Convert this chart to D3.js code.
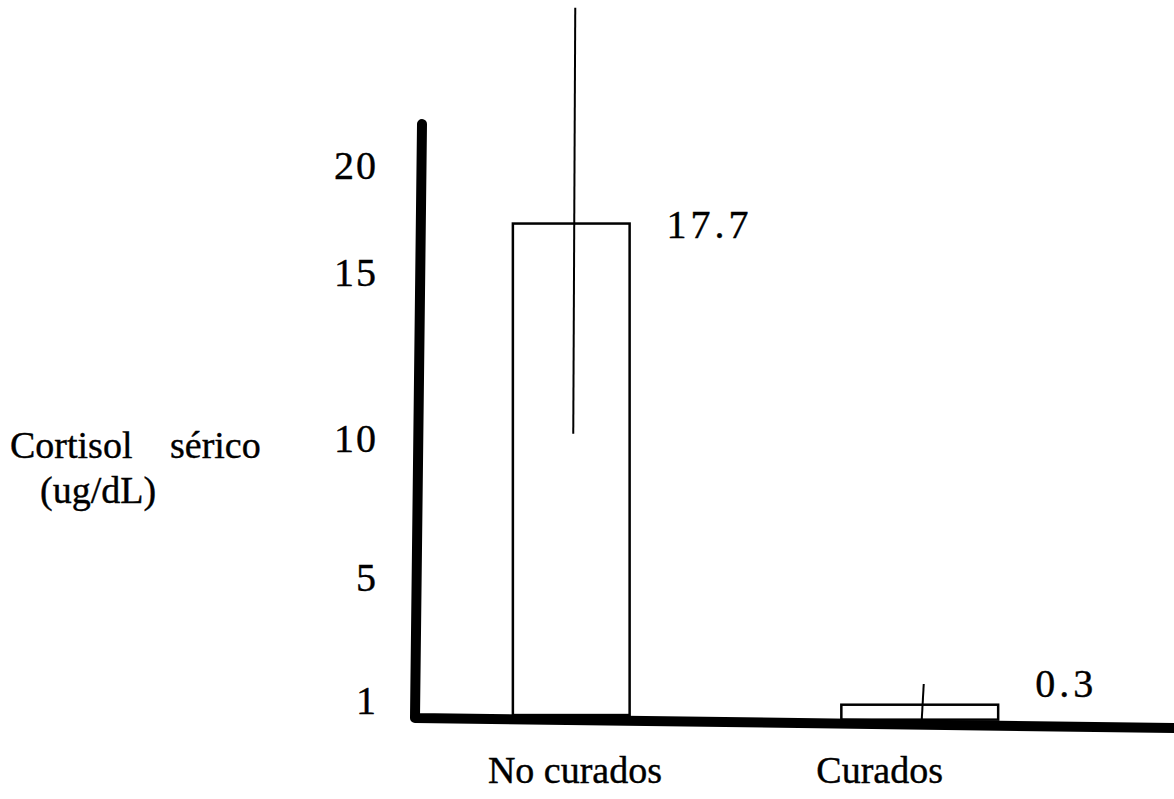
<!DOCTYPE html>
<html lang="es">
<head>
    <meta charset="UTF-8">
    <title>Cortisol sérico</title>
    <script src="https://d3js.org/d3.v7.min.js"></script>
    <style>
        body {
            margin: 0;
            padding: 0;
            background-color: #fff;
            overflow: hidden;
        }

        svg {
            display: block;
        }

        text {
            font-family: "Liberation Serif", "Times New Roman", serif;
            fill: #000;
            stroke: #000;
            stroke-width: 0.4px;
        }
    </style>
</head>
<body>
    <script>
        // Data
        const categories = ["No curados", "Curados"];
        const means = [17.7, 0.3];
        const errHigh = [25.5, 1.05];
        const errLow = [10.1, 0];
        const yTicks = [1, 5, 10, 15, 20];
        const yTickLabels = ["1", "5", "10", "15", "20"];

        // styling only: relative bar widths as drawn in the original
        const barWidthFrac = [0.335, 0.45];

        const width = 1174;
        const height = 799;

        const svg = d3.select("body").append("svg")
            .attr("width", width)
            .attr("height", height);

        const y = d3.scaleLinear()
            .domain([0, 21.3])
            .range([713, 124]);

        // the tick numbers in the original are hand-spaced, not linear
        const yLabel = d3.scaleLinear()
            .domain([0, 1, 5, 10, 15, 20])
            .range([715, 700, 577, 438, 272, 165]);

        const x = d3.scaleBand()
            .domain(categories)
            .range([397, 1094])
            .padding(0);

        // the scanned x axis drops slightly towards the right
        const axisX0 = 415;
        const xAxisDrop = 10;
        const axisW = 10;
        const baseline = px => y(0) + xAxisDrop * (px - axisX0) / (width - axisX0);

        const data = categories.map((c, i) => ({
            cat: c,
            mean: means[i],
            hi: errHigh[i],
            lo: errLow[i],
            w: x.bandwidth() * barWidthFrac[i]
        }));

        const cx = d => x(d.cat) + x.bandwidth() / 2;

        // Bars
        svg.selectAll(".bar")
            .data(data)
            .enter().append("rect")
            .attr("class", "bar")
            .attr("x", d => cx(d) - d.w / 2)
            .attr("y", d => y(d.mean))
            .attr("width", d => d.w)
            .attr("height", d => baseline(cx(d)) - y(d.mean))
            .attr("fill", "#fff")
            .attr("stroke", "#000")
            .attr("stroke-width", 2.5);

        // Error lines
        svg.selectAll(".err")
            .data(data)
            .enter().append("line")
            .attr("class", "err")
            .attr("x1", d => cx(d) + 4)
            .attr("x2", d => cx(d) + 2)
            .attr("y1", d => y(d.hi))
            .attr("y2", d => d.lo > 0 ? y(d.lo) : baseline(cx(d)))
            .attr("stroke", "#000")
            .attr("stroke-width", 2);

        // Thick axes
        svg.append("path")
            .attr("d", d3.line()([
                [422, y.range()[1]],
                [axisX0, y(0) + axisW / 2],
                [width, baseline(width) + axisW / 2]
            ]))
            .attr("fill", "none")
            .attr("stroke", "#000")
            .attr("stroke-width", axisW)
            .attr("stroke-linecap", "round")
            .attr("stroke-linejoin", "round");

        // Y tick labels
        svg.selectAll(".ytick")
            .data(yTicks)
            .enter().append("text")
            .attr("class", "ytick")
            .attr("x", 378)
            .attr("y", d => yLabel(d))
            .attr("dy", "0.35em")
            .attr("text-anchor", "end")
            .style("font-size", "40px")
            .style("letter-spacing", "2px")
            .text((d, i) => yTickLabels[i]);

        // Value labels
        svg.selectAll(".val")
            .data(data)
            .enter().append("text")
            .attr("class", "val")
            .attr("x", d => cx(d) + d.w / 2 + 37)
            .attr("y", d => Math.min(y(d.mean), y(0) - 30))
            .attr("dy", "0.35em")
            .style("font-size", "40px")
            .style("letter-spacing", "4px")
            .text(d => d.mean.toFixed(1));

        // Category labels
        svg.selectAll(".cat")
            .data(data)
            .enter().append("text")
            .attr("class", "cat")
            .attr("x", d => cx(d) - d.w / 2 - 25)
            .attr("y", 770)
            .attr("dy", "0.35em")
            .style("font-size", "38px")
            .text(d => d.cat);

        // Y axis title
        const title = svg.append("text")
            .style("font-size", "38px");
        title.append("tspan").attr("x", 10).attr("y", 445).attr("dy", "0.35em").text("Cortisol");
        title.append("tspan").attr("x", 170).attr("y", 445).attr("dy", "0.35em").text("sérico");
        title.append("tspan").attr("x", 40).attr("y", 490).attr("dy", "0.35em").text("(ug/dL)");
    </script>
</body>
</html>
